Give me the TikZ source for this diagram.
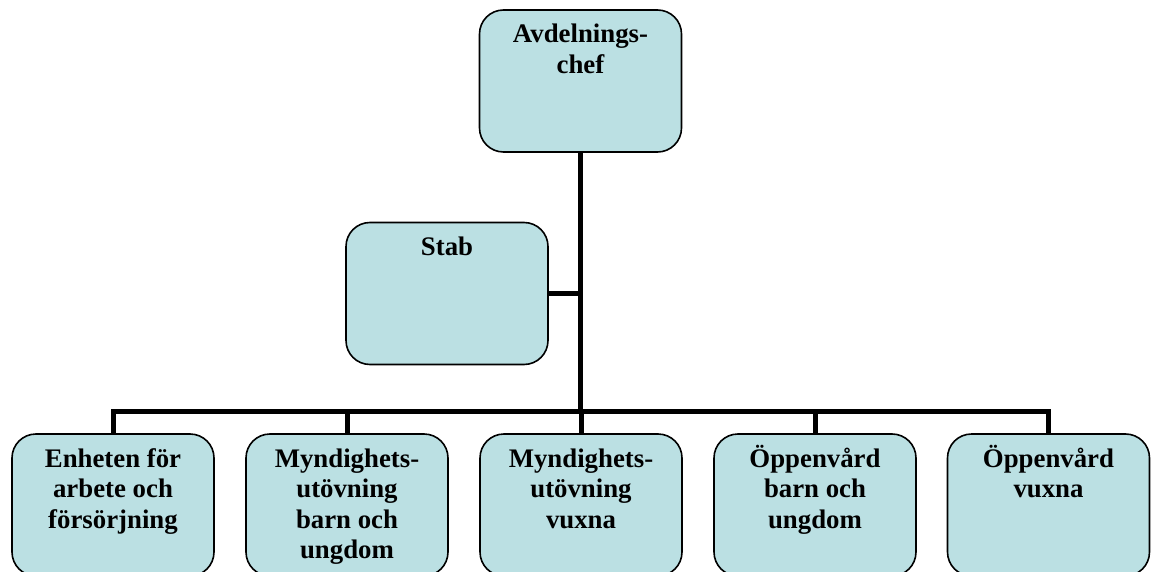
\documentclass[tikz,border=0pt]{standalone}
\usepackage{fontspec}
\setmainfont{Liberation Serif}
\usepackage{tikz}
\usetikzlibrary{positioning}

\definecolor{boxfill}{RGB}{187,224,227}

\tikzset{
  orgbox/.style={draw=black, line width=1.6pt, fill=boxfill, rounded corners=24pt,
    inner sep=6pt, minimum width=202pt, minimum height=142pt},
  conn/.style={line width=5pt, black}
}

\newcommand{\boxtext}[1]{\parbox[c][130pt][t]{188pt}{\centering\bfseries
  \fontsize{26.8}{30.5}\selectfont\rule{0pt}{27pt}#1}}

\begin{document}
\begin{tikzpicture}[x=1pt,y=-1pt]

	\useasboundingbox (0,0) rectangle (1151,572);
	\clip (0,0) rectangle (1151,572);

	\node[orgbox] (chef) at (580.5,81) {\boxtext{Avdelnings-\\chef}};
	\node[orgbox] (stab) at (447,293.5) {\boxtext{Stab}};

	\node[orgbox] (enh) at (113,505) {\boxtext{Enheten för\\arbete och\\försörjning}};
	\node[orgbox] (mbu) at (347,505) {\boxtext{Myndighets-\\utövning\\barn och\\ungdom}};
	\node[orgbox] (mvu) at (581,505) {\boxtext{Myndighets-\\utövning\\vuxna}};
	\node[orgbox] (obu) at (815,505) {\boxtext{Öppenvård\\barn och\\ungdom}};
	\node[orgbox] (ovu) at (1048.5,505) {\boxtext{Öppenvård\\vuxna}};

	\coordinate (bar) at (580.5,411);

	% connectors
	\draw[conn] (chef.south) -- (chef.south |- bar);
	\draw[conn] (stab.east) -- (stab.east -| chef.south);
	\draw[conn] (enh.north) -- (enh.north |- bar) -- (ovu.north |- bar) -- (ovu.north);
	\draw[conn] (mbu.north) -- (mbu.north |- bar);
	\draw[conn] (mvu.north) -- (mvu.north |- bar);
	\draw[conn] (obu.north) -- (obu.north |- bar);

\end{tikzpicture}
\end{document}
